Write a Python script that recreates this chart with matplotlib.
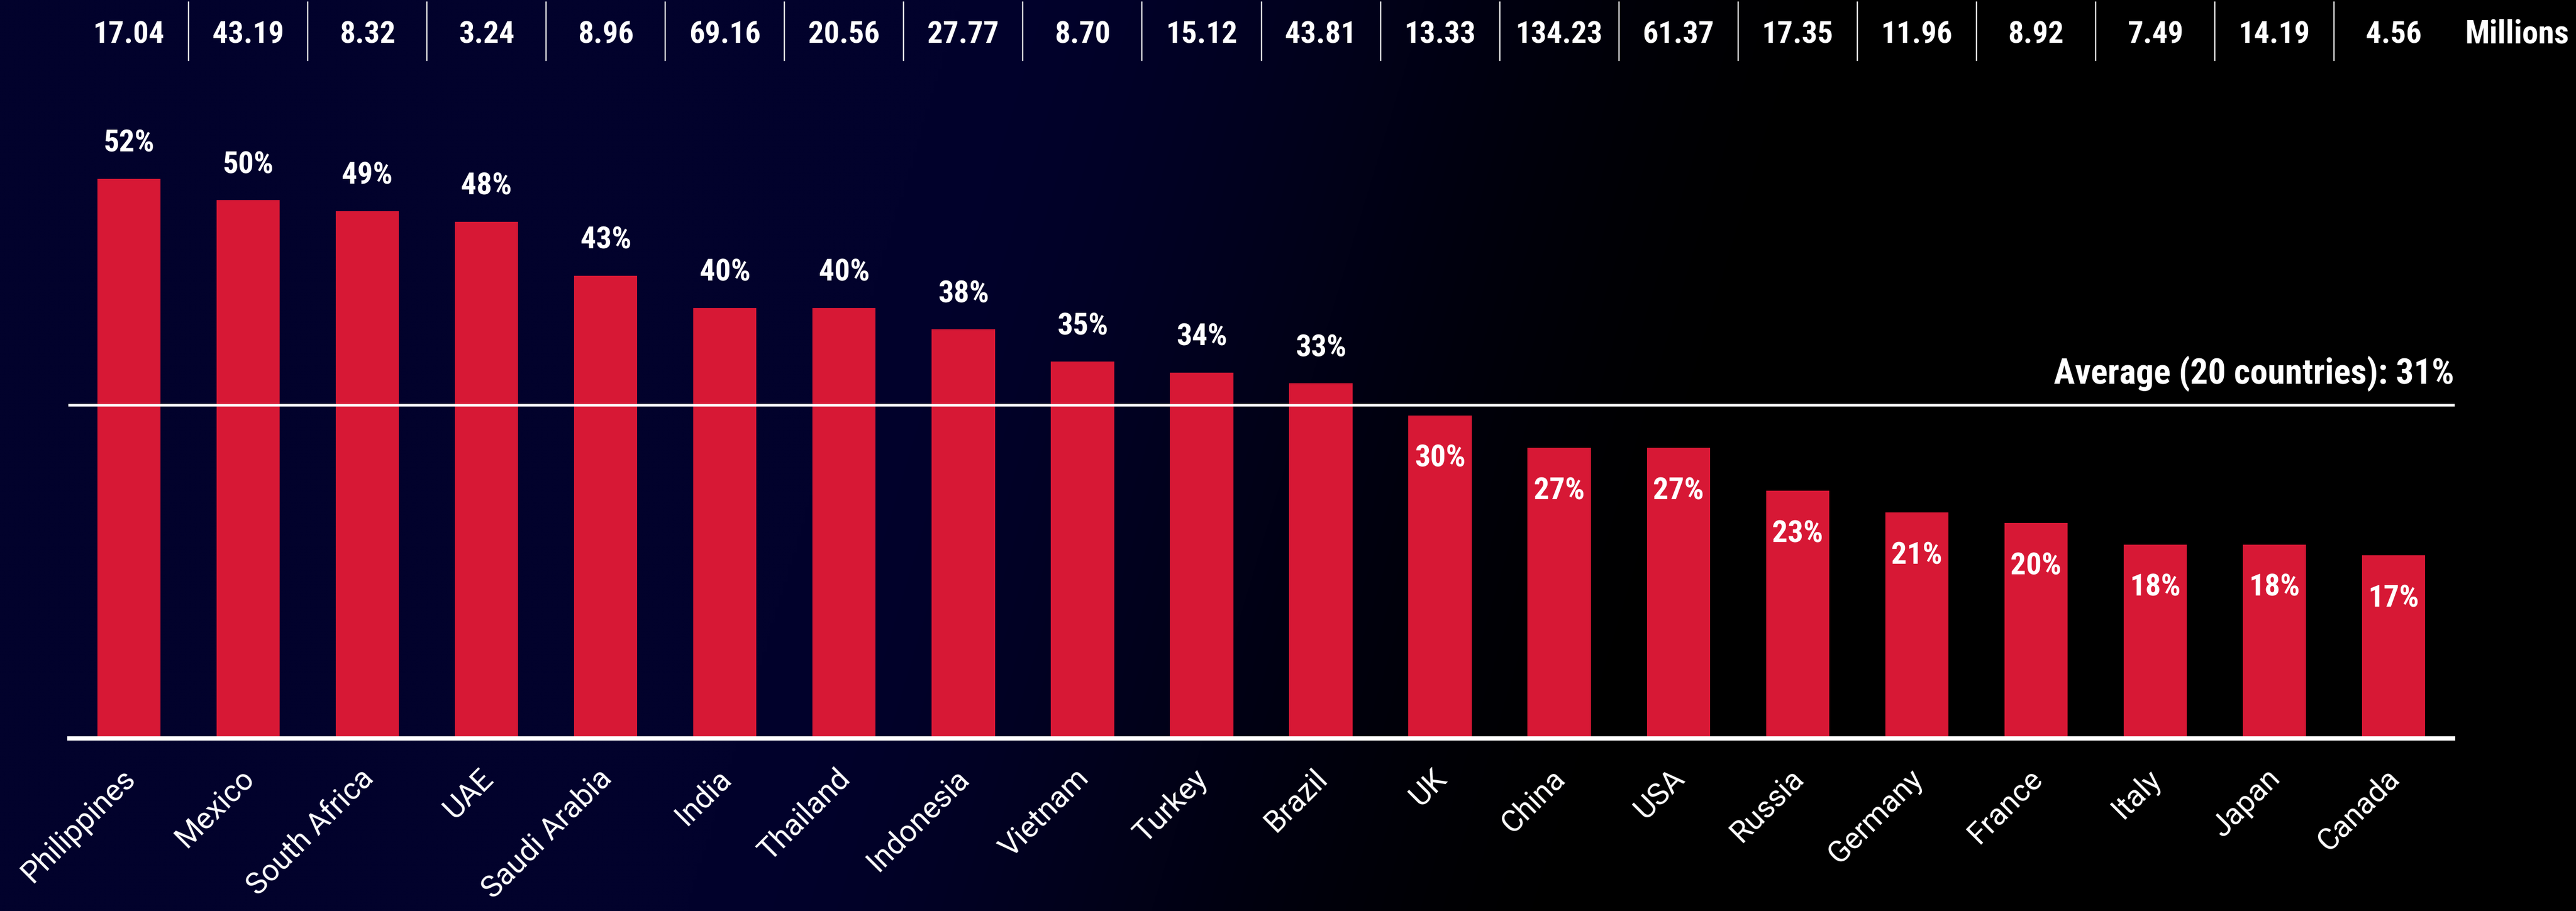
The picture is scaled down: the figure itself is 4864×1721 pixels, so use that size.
import os
import numpy as np
import matplotlib
matplotlib.use("Agg")
import matplotlib.pyplot as plt
from matplotlib import font_manager
from matplotlib.font_manager import FontProperties
from matplotlib.transforms import blended_transform_factory

# ---------------- data ----------------
countries = ["Philippines", "Mexico", "South Africa", "UAE", "Saudi Arabia", "India",
             "Thailand", "Indonesia", "Vietnam", "Turkey", "Brazil", "UK", "China",
             "USA", "Russia", "Germany", "France", "Italy", "Japan", "Canada"]
shares = [52, 50, 49, 48, 43, 40, 40, 38, 35, 34, 33, 30, 27, 27, 23, 21, 20, 18, 18, 17]
population_millions = [17.04, 43.19, 8.32, 3.24, 8.96, 69.16, 20.56, 27.77, 8.70, 15.12,
                       43.81, 13.33, 134.23, 61.37, 17.35, 11.96, 8.92, 7.49, 14.19, 4.56]
average_share = 31
average_label = "Average (20 countries): 31%"
unit_label = "Millions"

# ---------------- fonts ----------------
def find_font(candidates):
    files = {os.path.basename(f.fname).lower(): f.fname for f in font_manager.fontManager.ttflist}
    for c in candidates:
        if c in files:
            return files[c]
    return None

cond_path = find_font(["liberationsansnarrow-bold.ttf", "robotocondensed-bold.ttf",
                       "notosans-condensedbold.ttf", "dejavusanscondensed-bold.ttf",
                       "opensans-condbold.ttf"])
if cond_path:
    def bold_fp(size):
        return FontProperties(fname=cond_path, size=size)
else:
    def bold_fp(size):
        return FontProperties(family="Roboto", weight="bold", size=size * 0.9)

W, H, DPI = 4864, 1721, 100
fig = plt.figure(figsize=(W / DPI, H / DPI), dpi=DPI)
PX = 72.0 / DPI  # points per pixel

# ---------------- background gradient ----------------
bg = fig.add_axes([0, 0, 1, 1], zorder=0)
nx, ny = 600, 220
xs = np.linspace(0, W, nx)
ys = np.linspace(0, H, ny)  # image y from top
XX, YY = np.meshgrid(xs, ys)
u = XX - 0.3 * (H - YY)
t = np.clip((u - 1300) / (3050 - 1300), 0, 1)
t = t * t * (3 - 2 * t)
navy = np.array([2, 2, 44]) / 255.0
img = (1 - t)[..., None] * navy[None, None, :]
bg.imshow(img, extent=[0, 1, 0, 1], aspect="auto", origin="upper", interpolation="bilinear")
bg.set_axis_off()

# ---------------- main axes ----------------
left_px, right_px, base_px, top_px = 131, 4632, 1395, 175
ax = fig.add_axes([left_px / W, (H - base_px) / H, (right_px - left_px) / W, (base_px - top_px) / H],
                  zorder=1)
ax.set_facecolor("none")
x = np.arange(len(countries))
ax.bar(x, shares, width=0.53, color="#D71835", zorder=2)
ax.set_xlim(-0.5, len(countries) - 0.5)
ax.set_ylim(0, 60)
ax.set_axis_off()

ax.axhline(0, color="white", lw=8 * PX, zorder=3, clip_on=False)
ax.axhline(average_share, color="white", lw=5 * PX, zorder=3, clip_on=False)
ax.annotate(average_label, xy=(len(countries) - 0.5, average_share), xycoords="data",
            xytext=(1, 40 * PX), textcoords="offset points", ha="right", va="baseline",
            color="white", fontproperties=bold_fp(48))

# value labels
for xi, s in zip(x, shares):
    off = 51 * PX if s > average_share else -97 * PX
    ax.annotate(f"{s}%", xy=(xi, s), xytext=(0, off), textcoords="offset points",
                ha="center", va="baseline", color="white", fontproperties=bold_fp(42),
                zorder=4)

# country labels
for xi, c in zip(x, countries):
    ax.annotate(c, xy=(xi, 0), xytext=(14 * PX, -78 * PX), textcoords="offset points",
                ha="right", va="baseline", rotation=45, rotation_mode="anchor",
                color="white", fontsize=41, fontweight="normal",
                family=["Roboto", "DejaVu Sans"])

# top row: population in millions with separators
trans = blended_transform_factory(ax.transData, fig.transFigure)
num_base = 1 - 82 / H
for xi, p in zip(x, population_millions):
    ax.text(xi, num_base, f"{p:.2f}", transform=trans, ha="center", va="baseline",
            color="white", fontproperties=bold_fp(42), clip_on=False)
for xi in x[:-1]:
    ax.plot([xi + 0.5, xi + 0.5], [1 - 4 / H, 1 - 114 / H], transform=trans,
            color="#e6e6e6", lw=2.5 * PX, clip_on=False)
fig.text(4654 / W, num_base, unit_label, ha="left", va="baseline", color="white",
         fontproperties=bold_fp(44))

fig.savefig("out.png", dpi=DPI)
